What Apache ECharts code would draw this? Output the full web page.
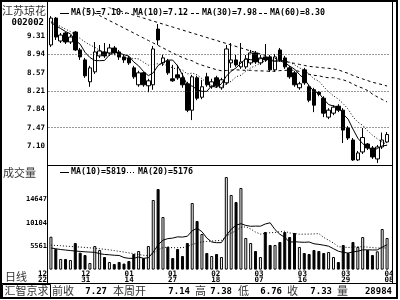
<!DOCTYPE html>
<html><head><meta charset="utf-8">
<script src="https://cdn.jsdelivr.net/npm/echarts@6/dist/echarts.min.js"></script>
<style>html,body{margin:0;padding:0;background:#fff}#c{width:400px;height:300px}</style>
</head><body><div id="c"></div>
<script>
const dates = ['12/22','12/23','12/24','12/27','12/28','12/29','12/30','12/31','01/04','01/05','01/06','01/07','01/10','01/11','01/12','01/13','01/14','01/17','01/18','01/19','01/20','01/21','01/24','01/25','01/26','01/27','01/28','01/31','02/01','02/02','02/03','02/04','02/16','02/17','02/18','02/21','02/22','02/23','02/24','02/25','02/28','03/01','03/02','03/03','03/04','03/07','03/08','03/09','03/10','03/11','03/14','03/15','03/16','03/17','03/18','03/21','03/22','03/23','03/24','03/25','03/28','03/29','03/30','03/31','04/01','04/04','04/05','04/06','04/07','04/08'];
const opens  = [9.13,9.67,9.21,9.37,9.19,9.39,9.03,8.83,8.39,8.59,8.91,8.99,8.97,9.07,8.99,8.89,8.87,8.67,8.33,8.57,8.31,8.33,9.45,8.77,8.81,8.45,8.53,8.47,8.35,7.82,8.47,8.08,8.49,8.29,8.47,8.27,8.37,8.77,8.83,8.69,8.69,8.77,8.97,8.77,8.89,8.89,8.63,9.03,8.87,8.67,8.57,8.27,8.63,8.29,8.23,8.18,8.06,7.68,7.76,7.90,7.82,7.46,7.22,6.82,6.98,7.14,7.06,6.84,7.08,7.18];
const closes = [9.67,9.29,9.33,9.19,9.29,9.03,8.89,8.51,8.67,8.99,9.01,8.91,9.07,8.97,8.89,8.83,8.77,8.49,8.57,8.33,8.41,9.05,9.23,8.87,8.57,8.41,8.47,8.33,7.82,8.49,8.06,8.29,8.33,8.39,8.31,8.43,9.05,8.83,8.73,8.79,8.85,8.97,8.79,8.87,8.83,8.63,8.89,8.83,8.69,8.49,8.33,8.35,8.37,8.02,7.92,8.14,7.76,7.82,7.88,7.82,7.42,7.26,6.82,6.96,7.27,7.06,6.88,7.08,7.22,7.33];
const lows   = [9.09,9.23,9.17,9.15,9.15,9.01,8.83,8.47,8.29,8.55,8.87,8.87,8.91,8.93,8.83,8.77,8.73,8.45,8.29,8.29,8.18,8.23,9.13,8.71,8.53,8.39,8.43,8.27,7.78,7.62,8.02,8.04,8.29,8.25,8.27,8.23,8.33,8.67,8.69,8.65,8.65,8.73,8.75,8.73,8.79,8.59,8.59,8.79,8.65,8.45,8.29,8.23,8.33,7.98,7.78,8.10,7.68,7.64,7.72,7.78,7.16,7.22,6.80,6.80,6.94,7.02,6.84,6.76,7.04,7.16];
const highs  = [9.71,9.69,9.37,9.39,9.33,9.41,9.07,8.87,8.71,9.19,9.13,9.17,9.15,9.11,9.03,8.93,8.91,8.71,8.61,8.59,8.45,9.11,9.55,8.93,8.85,8.73,8.73,8.57,8.39,8.53,8.51,8.43,8.57,8.45,8.51,8.47,9.13,9.17,8.93,9.17,8.93,9.03,9.01,8.93,9.15,8.93,8.95,9.07,8.91,8.71,8.61,8.39,8.67,8.33,8.27,8.20,8.10,7.86,7.92,7.94,7.86,7.50,7.26,7.00,7.46,7.16,7.10,7.12,7.37,7.38];
const volumes = [7360,4950,3000,3000,2800,6130,4230,3780,2210,5540,4760,3390,2410,2020,2410,2100,2600,3980,4560,3190,5540,14550,16700,11220,5400,3190,4950,3580,6130,13960,10440,7890,4170,3580,3980,3390,19050,15530,14160,16900,7110,6130,4560,3390,8280,5740,5740,6330,8280,7300,8090,5350,4170,3980,4760,4560,4170,4370,3390,2410,5740,4170,6330,5350,7300,4760,3780,4500,8870,7110];
const ma5  = [9.58,9.52,9.46,9.40,9.354,9.226,9.146,8.982,8.878,8.818,8.814,8.818,8.930,8.990,8.970,8.934,8.906,8.790,8.710,8.598,8.514,8.570,8.718,8.778,8.826,8.826,8.710,8.530,8.320,8.304,8.234,8.198,8.198,8.312,8.276,8.350,8.502,8.602,8.670,8.766,8.850,8.834,8.826,8.854,8.862,8.818,8.802,8.810,8.774,8.706,8.646,8.538,8.446,8.312,8.198,8.160,8.042,7.932,7.904,7.884,7.740,7.640,7.440,7.256,7.146,7.074,6.998,7.050,7.102,7.114];
const ma10 = [9.60,9.55,9.50,9.45,9.40,9.33,9.26,9.19,9.13,9.086,9.020,8.982,8.956,8.934,8.894,8.874,8.862,8.860,8.850,8.784,8.724,8.738,8.754,8.744,8.712,8.670,8.640,8.624,8.549,8.565,8.530,8.454,8.364,8.316,8.290,8.292,8.350,8.400,8.491,8.521,8.600,8.668,8.714,8.762,8.814,8.834,8.818,8.818,8.814,8.784,8.732,8.670,8.628,8.543,8.452,8.403,8.290,8.189,8.108,8.041,7.950,7.841,7.686,7.580,7.515,7.407,7.319,7.245,7.179,7.130];
const ma30 = [10.22,10.17,10.12,10.07,10.02,9.97,9.92,9.87,9.82,9.77,9.72,9.67,9.62,9.57,9.52,9.47,9.42,9.37,9.32,9.27,9.22,9.17,9.12,9.07,9.02,8.97,8.92,8.88,8.84,8.812,8.758,8.725,8.691,8.665,8.632,8.612,8.617,8.626,8.631,8.625,8.619,8.621,8.612,8.609,8.607,8.600,8.604,8.615,8.619,8.625,8.622,8.599,8.570,8.542,8.520,8.511,8.487,8.470,8.472,8.450,8.429,8.394,8.344,8.296,8.262,8.216,8.144,8.087,8.034,7.985];
const ma60 = [10.24,10.21,10.18,10.15,10.12,10.09,10.06,10.03,10.00,9.97,9.94,9.91,9.88,9.85,9.82,9.79,9.76,9.73,9.70,9.67,9.64,9.61,9.58,9.55,9.52,9.49,9.46,9.43,9.40,9.37,9.34,9.31,9.28,9.25,9.22,9.19,9.16,9.13,9.10,9.07,9.04,9.01,8.98,8.95,8.92,8.89,8.86,8.83,8.80,8.78,8.76,8.74,8.72,8.70,8.69,8.68,8.67,8.66,8.65,8.631,8.593,8.560,8.518,8.481,8.447,8.414,8.381,8.357,8.333,8.305];
const volMa10 = [5150,5000,4850,4750,4650,4550,4480,4400,4350,4300,4040,3884,3825,3727,3688,3285,3122,3142,3377,3142,3220,4336,5765,6685,6984,7093,7328,7288,7445,8522,9012,8346,7093,6329,6187,6207,7617,8812,9615,9909,9576,9400,9439,9420,9850,10085,8754,7834,7246,6286,6384,6306,6267,6326,5974,5856,5699,5503,5014,4523,4288,4170,4386,4523,4777,4797,4758,4771,5319,5789];
const volMa20 = [5700,5650,5600,5520,5450,5400,5330,5260,5180,5100,5000,4900,4780,4650,4500,4350,4200,4050,3880,3721,3630,4110,4795,5206,5336,5189,5225,5215,5411,5832,6116,6341,6429,6507,6586,6650,7473,8050,8530,9216,9294,8873,8266,7875,8019,8146,8186,8323,8431,8098,7980,7853,7853,7873,7912,7971,7227,6669,6130,5405,5336,5238,5327,5425,5376,5327,5229,5137,5167,5156];
const priceTicks = [7.10,7.47,7.84,8.21,8.57,8.94,9.31];
const priceGridLevels = [7.47,8.21,8.94];
const volTicks = [5561,10104,14647];
const dateLabels = ['12\n22','12\n31','01\n14','01\n27','02\n18','03\n07','03\n16','03\n29','04\n08'];
const priceLegend = [['MA(5)','7.10'],['MA(10)','7.12'],['MA(30)','7.98'],['MA(60)','8.30']];
const volLegend = [['MA(10)','5819'],['MA(20)','5176']];
const statusItems = [['前收','7.27'],['本周开','7.14'],['高','7.38'],['低','6.76'],['收','7.33'],['量','28984']];
const stockName = '江苏琼花', stockCode = '002002';

const MONO = 'DejaVu Sans Mono';
const CJK = '"Noto Sans CJK SC"';
const candleData = opens.map((o, i) => [o, closes[i], lows[i], highs[i]]);
const volData = volumes.map((v, i) => ({
  value: v,
  itemStyle: closes[i] >= opens[i] ? {color: '#fff', borderColor: '#000', borderWidth: 1} : {color: '#000', borderColor: '#000', borderWidth: 1}
}));
const hidden = {axisLine:{show:false}, axisTick:{show:false}, splitLine:{show:false}};
function lineSeries(data, x, y, dash) {
  return {type:'line', xAxisIndex:x, yAxisIndex:y, data, showSymbol:false, symbol:'none', silent:true, clip:true, z:4,
    lineStyle:{color:'#000', width:1, type: dash || 'solid'}, animation:false};
}
const g = [];
function txt(text, x, y, font, align, fill) {
  g.push({type:'text', silent:true, z:100, style:{text, x, y, font, fill: fill || '#000', align: align || 'left', textAlign: align || 'left', verticalAlign:'middle', textVerticalAlign:'middle'}});
}
function ln(x1, y1, x2, y2, w, dash) {
  g.push({type:'line', silent:true, z:100, shape:{x1, y1, x2, y2}, style:{stroke:'#000', lineWidth: w || 1, lineDash: dash || null}});
}
g.push({type:'rect', silent:true, z:100, shape:{x:1, y:1, width:396, height:297}, style:{fill:'none', stroke:'#000', lineWidth:2}});
ln(392.5, 1, 392.5, 283.5);
ln(47.5, 1, 47.5, 283.5);
ln(47.5, 165.5, 392.5, 165.5);
ln(1, 283.5, 397, 283.5);
g.push({type:'rect', silent:true, z:100, shape:{x:2.5, y:284.5, width:48, height:13}, style:{fill:'none', stroke:'#000', lineWidth:1}});
txt(stockName, 24, 11, '11px ' + CJK, 'center', '#333');
txt(stockCode, 44, 22.5, 'bold 9px ' + MONO, 'right');
txt('成交量', 3, 173, '11px ' + CJK, 'left', '#333');
txt('日线', 5, 276.5, '11px ' + CJK, 'left', '#333');
const plX = [71, 133, 202, 270];
const plDash = [null, [1,2], [3,2], [3,2]];
priceLegend.forEach((p, i) => {
  txt(p[0] + '=' + p[1], plX[i], 13, 'bold 8.3px ' + MONO);
  ln(plX[i] - 11, 13.5, plX[i] - 2, 13.5, 1, plDash[i]);
});
const vlX = [71, 138];
const vlDash = [null, [1,2]];
volLegend.forEach((p, i) => {
  txt(p[0] + '=' + p[1], vlX[i], 172, 'bold 8.3px ' + MONO);
  ln(vlX[i] - 11, 172.5, vlX[i] - 2, 172.5, 1, vlDash[i]);
});
txt('汇智京求', 26.5, 291, '11px ' + CJK, 'center', '#333');
const stLabelX = [52, 113, 195, 238, 287, 337];
const stValueX = [107, 190, 232, 282, 332, 392];
statusItems.forEach((s, i) => {
  txt(s[0], stLabelX[i], 291, '11px ' + CJK, 'left', '#333');
  txt(s[1], stValueX[i], 291.5, 'bold 9px ' + MONO, 'right');
});

const chart = echarts.init(document.getElementById('c'), null, {renderer:'canvas', width:400, height:300, devicePixelRatio:1});
chart.setOption({
  animation:false,
  backgroundColor:'#fff',
  grid:[
    {left:48.5, top:8, width:341, height:157, outerBoundsMode:'none', containLabel:false},
    {left:48.5, top:165, width:341, height:104.1, outerBoundsMode:'none', containLabel:false},
    {left:42.5, top:268.5, width:346.5, height:1, outerBoundsMode:'none', containLabel:false}
  ],
  xAxis:[
    Object.assign({type:'category', gridIndex:0, data:dates, boundaryGap:true, axisLabel:{show:false}}, hidden),
    Object.assign({type:'category', gridIndex:1, data:dates, boundaryGap:true, axisLabel:{show:false}}, hidden),
    Object.assign({type:'value', gridIndex:2, min:0, max:8, interval:1,
      axisLabel:{show:true, showMinLabel:true, showMaxLabel:true, margin:1, formatter:v => dateLabels[Math.round(v)] || '',
        fontFamily:MONO, fontWeight:'bold', fontSize:7.5, lineHeight:6.5, color:'#000'}}, hidden)
  ],
  yAxis:[
    Object.assign({type:'value', gridIndex:0, min:6.718, max:9.873, scale:true,
      axisLabel:{customValues:priceTicks, formatter:v => v.toFixed(2), margin:3.5, fontFamily:MONO, fontWeight:'bold', fontSize:7.5, color:'#000'}}, hidden),
    Object.assign({type:'value', gridIndex:1, min:1018, max:21401, scale:true,
      axisLabel:{customValues:volTicks, formatter:v => String(Math.round(v)), margin:1.5, fontFamily:MONO, fontWeight:'bold', fontSize:7, color:'#000'}}, hidden),
    Object.assign({type:'value', gridIndex:2, show:false}, hidden)
  ],
  series:[
    {type:'candlestick', xAxisIndex:0, yAxisIndex:0, data:candleData, barWidth:4, silent:true, z:2,
      itemStyle:{color:'#fff', color0:'#000', borderColor:'#000', borderColor0:'#000', borderWidth:1},
      markLine:{silent:true, symbol:'none', label:{show:false}, animation:false,
        lineStyle:{type:[1,2], color:'#333', width:1}, data: priceGridLevels.map(v => ({yAxis:v}))}},
    lineSeries(ma5, 0, 0),
    lineSeries(ma10, 0, 0, [1,2]),
    lineSeries(ma30, 0, 0, [3,3]),
    lineSeries(ma60, 0, 0, [3,3]),
    {type:'bar', xAxisIndex:1, yAxisIndex:1, data:volData, barWidth:3, silent:true, clip:true, z:2},
    lineSeries(volMa10, 1, 1),
    lineSeries(volMa20, 1, 1, [1,2])
  ],
  graphic:{elements:g}
});
</script>
</body></html>
